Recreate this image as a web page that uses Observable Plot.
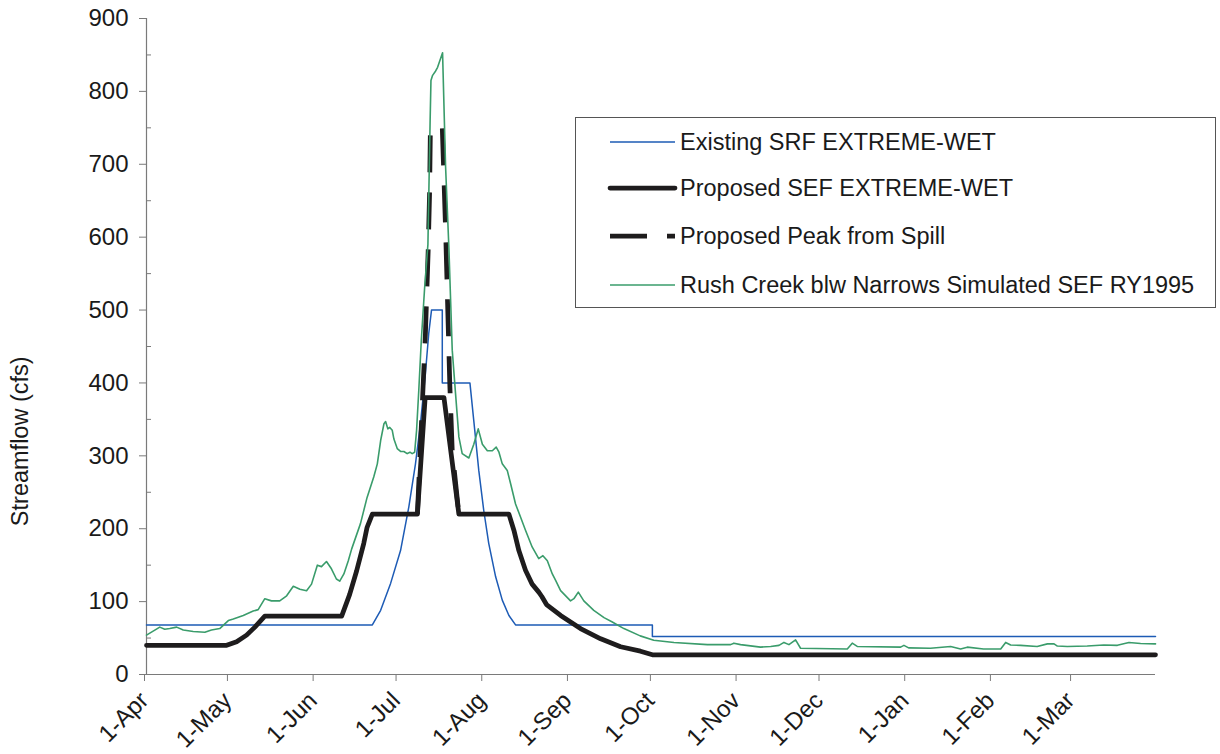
<!DOCTYPE html>
<html>
<head>
<meta charset="utf-8">
<script src="https://cdn.jsdelivr.net/npm/d3@7"></script>
<script src="https://cdn.jsdelivr.net/npm/@observablehq/plot@0.6"></script>
<style>
  body { margin: 0; background: #fff; }
  #chart { position: relative; width: 1220px; height: 754px; font-family: "Liberation Sans", Arial, sans-serif; }
  #chart svg { display: block; }
  #legend { position: absolute; left: 575px; top: 117px; }
</style>
</head>
<body>
<div id="chart"></div>
<script>
// Runoff year 1995: 1-Apr-1995 through 31-Mar-1996, positions in days from 1-Apr.
const yearStart = Date.UTC(1995, 3, 1);
const toDate = d => new Date(yearStart + d * 864e5);

// Existing SRF EXTREME-WET
const existingDays = [0, 81.7, 84.7, 88.3, 91.9, 94.9, 97.3, 99.1, 100.9, 102.1, 103.1, 107.0, 107.0, 117.0, 118.4, 120.2, 122.0, 123.8, 126.3, 128.7, 131.1, 133.5, 183, 183, 365];
const existingFlow = [68, 68, 88, 125, 170, 230, 289, 344, 413, 468, 500, 500, 400, 400, 348, 280, 225, 180, 134, 102, 81, 68, 68, 52, 52];

// Proposed SEF EXTREME-WET
const proposedDays = [0, 29, 32.6, 36.2, 39.2, 42.8, 70.6, 73.5, 76.0, 78.6, 79.8, 81.7, 98.0, 100.8, 107.6, 113.0, 131.1, 132.9, 134.7, 137.1, 139.5, 141.9, 143.0, 144.7, 149.8, 157.0, 164.3, 171.5, 178.7, 183, 365];
const proposedFlow = [40, 40, 45, 54, 65, 80, 80, 110, 142, 180, 202, 220, 220, 380, 380, 220, 220, 198, 170, 143, 124, 113, 107, 96, 81, 63, 49, 38, 32, 27, 27];

// Proposed Peak from Spill
const spillDays = [98.0, 100.1, 100.9, 101.9, 102.4, 102.7, 107.0, 108.2, 109.7, 110.6, 113.0];
const spillFlow = [220, 399, 468, 582, 660, 750, 750, 610, 400, 307, 220];

// Rush Creek blw Narrows Simulated SEF RY1995
const rushDays = [0, 4.8, 6.6, 8.4, 10.9, 13.3, 16.9, 21.1, 23.5, 26.5, 29.6, 31.4, 35.0, 38.6, 40.4, 42.8, 45.2, 48.2, 50.7, 53.1, 55.5, 57.9, 59.7, 61.8, 63.3, 65.1, 66.9, 68.7, 69.9, 71.4, 73.0, 74.2, 77.4, 79.8, 82.2, 83.5, 84.7, 85.9, 86.5, 87.3, 88.0, 88.9, 89.5, 90.7, 91.9, 93.1, 94.3, 95.3, 96.1, 97.0, 97.7, 98.5, 99.4, 100.6, 101.8, 102.6, 102.9, 103.5, 104.6, 105.3, 107.1, 108.2, 109.4, 110.6, 111.8, 113.0, 114.2, 116.6, 118.4, 120.0, 121.5, 123.3, 125.1, 126.5, 127.5, 128.7, 130.5, 131.7, 133.5, 135.3, 137.1, 139.5, 141.9, 143.4, 145.0, 146.8, 148.0, 149.8, 153.4, 154.6, 156.2, 158.2, 161.8, 165.5, 168.5, 172.7, 178.6, 183.5, 190.8, 202.9, 211.3, 212.5, 214.9, 222.1, 225.8, 228.8, 230.6, 232.4, 234.8, 236.6, 253.5, 255.3, 257.1, 272.8, 274.0, 275.7, 283.6, 290.9, 294.5, 296.9, 302.8, 309.0, 310.8, 312.6, 316.2, 322.2, 325.9, 328.3, 329.5, 333.1, 340.3, 346.3, 351.2, 355.4, 359.6, 365];
const rushFlow = [54, 65, 62, 63, 65, 61, 59, 58, 61, 63, 74, 76, 81, 87, 89, 104, 101, 101, 108, 121, 117, 115, 124, 150, 148, 155, 145, 131, 128, 138, 156, 172, 207, 243, 271, 289, 321, 344, 347, 337, 339, 335, 323, 310, 306, 306, 303, 305, 303, 305, 335, 390, 458, 530, 590, 760, 815, 822, 828, 833, 853, 696, 584, 445, 385, 326, 303, 297, 316, 337, 316, 307, 307, 312, 305, 289, 280, 262, 234, 216, 198, 175, 159, 163, 156, 138, 129, 115, 101, 104, 113, 101, 88, 78, 72, 63, 53, 47, 44, 41, 41, 43, 41, 37.5, 38.5, 40, 44, 41, 47.5, 36, 35, 43, 38.5, 37.5, 40, 36.5, 36, 38.5, 35, 37.5, 35, 35, 44, 40.5, 40, 38.5, 42, 42, 39, 38.5, 39, 40.5, 40, 44, 42.5, 42];

// Axis ticks and labels
const monthTickDays = [0, 30, 61, 91, 122, 153, 183, 214, 244, 275, 306, 335];
const monthTickLabels = ["1-Apr", "1-May", "1-Jun", "1-Jul", "1-Aug", "1-Sep", "1-Oct", "1-Nov", "1-Dec", "1-Jan", "1-Feb", "1-Mar"];
const flowTicks = [0, 100, 200, 300, 400, 500, 600, 700, 800, 900];
const flowMinorTicks = [50, 150, 250, 350, 450, 550, 650, 750, 850];
const yAxisTitle = "Streamflow (cfs)";
const yAxisTitleAt = 320; // flow level where the rotated title is centred

const seriesNames = ["Existing SRF EXTREME-WET", "Proposed SEF EXTREME-WET", "Proposed Peak from Spill", "Rush Creek blw Narrows Simulated SEF RY1995"];

const BLUE = "#1d5bb5";
const GREEN = "#3a9c6b";
const BLACK = "#1e1c1d";
const AXIS = "#7a7a7a";
const INK = "#1a1a1a";
const FONT = "'Liberation Sans', Arial, sans-serif";

const series = (days, flows) => days.map((d, i) => ({date: toDate(d), flow: flows[i]}));
const existing = series(existingDays, existingFlow);
const proposed = series(proposedDays, proposedFlow);
const spill = series(spillDays, spillFlow);
const rush = series(rushDays, rushFlow);

const monthTicks = monthTickDays.map(toDate);
const monthLabel = new Map(monthTicks.map((t, i) => [+t, monthTickLabels[i]]));

const chart = Plot.plot({
  width: 1220,
  height: 754,
  marginLeft: 146,
  marginRight: 65,
  marginTop: 18,
  marginBottom: 80,
  style: {fontFamily: FONT, color: INK, background: "#fff"},
  x: {type: "utc", domain: [toDate(0), toDate(365)], label: null},
  y: {domain: [0, 900], label: null},
  marks: [
    Plot.ruleY([0], {stroke: AXIS, strokeWidth: 1.2}),
    Plot.ruleX([toDate(0)], {stroke: AXIS, strokeWidth: 1.2}),
    Plot.axisY(flowTicks, {label: null, tickSize: 7, tickPadding: 11, fontSize: 24, stroke: AXIS, fill: INK}),
    Plot.axisY(flowMinorTicks, {label: null, tickSize: 5, dx: 5, tickFormat: () => "", stroke: AXIS}),
    Plot.axisX(monthTicks, {label: null, tickSize: 7, tickPadding: 15, dx: -2, tickRotate: -45, fontSize: 24, stroke: AXIS, fill: INK,
      tickFormat: d => monthLabel.get(+d)}),
    Plot.line(existing, {x: "date", y: "flow", stroke: BLUE, strokeWidth: 1.5}),
    Plot.line(proposed, {x: "date", y: "flow", stroke: BLACK, strokeWidth: 4.75, strokeLinejoin: "round", strokeLinecap: "round"}),
    Plot.line(spill, {x: "date", y: "flow", stroke: BLACK, strokeWidth: 4.75, strokeDasharray: "37,20", strokeLinecap: "butt"}),
    Plot.line(rush, {x: "date", y: "flow", stroke: GREEN, strokeWidth: 1.6}),
    Plot.text([{label: yAxisTitle, date: toDate(0), flow: yAxisTitleAt}], {
      x: "date", y: "flow", text: "label", dx: -126, rotate: -90, fontSize: 23.5, fill: INK
    })
  ]
});

const root = document.getElementById("chart");
root.appendChild(chart);

// Legend box drawn over the plot area
const legendStyles = [
  {stroke: BLUE, width: 1.5, dash: null, cap: "butt"},
  {stroke: BLACK, width: 4.75, dash: null, cap: "round"},
  {stroke: BLACK, width: 4.75, dash: "37,20", cap: "butt"},
  {stroke: GREEN, width: 1.6, dash: null, cap: "butt"}
];
const lw = 641, lh = 191;
const legend = d3.select(root).append("svg")
  .attr("id", "legend")
  .attr("width", lw)
  .attr("height", lh)
  .style("font-family", FONT);
legend.append("rect")
  .attr("x", 0.5).attr("y", 0.5)
  .attr("width", lw - 1).attr("height", lh - 1)
  .attr("fill", "#fff").attr("stroke", "#555").attr("stroke-width", 1);
const rowY = [25, 71, 119, 168];
const rows = legend.selectAll("g.row").data(seriesNames).join("g")
  .attr("transform", (d, i) => `translate(0,${rowY[i]})`);
rows.append("line")
  .attr("x1", 35).attr("x2", 100).attr("y1", 0).attr("y2", 0)
  .attr("stroke", (d, i) => legendStyles[i].stroke)
  .attr("stroke-width", (d, i) => legendStyles[i].width)
  .attr("stroke-dasharray", (d, i) => legendStyles[i].dash)
  .attr("stroke-linecap", (d, i) => legendStyles[i].cap);
rows.append("text")
  .attr("x", 105).attr("y", 0).attr("dy", "0.35em")
  .attr("font-size", 23.5)
  .attr("fill", INK)
  .text(d => d);
</script>
</body>
</html>
